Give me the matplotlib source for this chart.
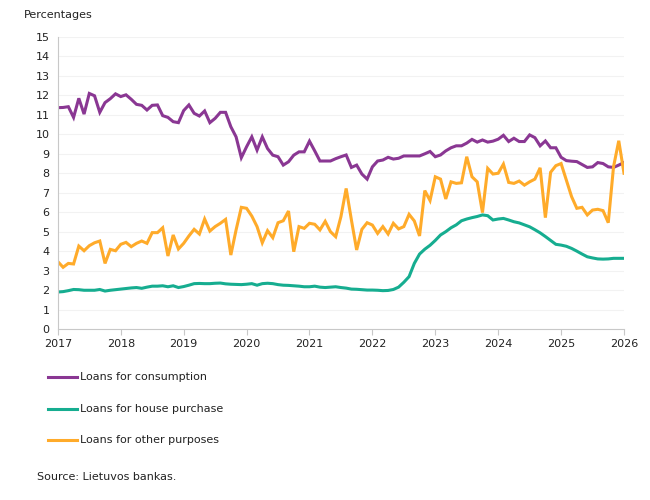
import numpy as np
import matplotlib.pyplot as plt
from matplotlib.lines import Line2D

# monthly observations, Jan 2017 .. Jan 2026
consumption = [
    11.37, 11.38, 11.42, 10.87, 11.85, 11.04, 12.10, 11.98, 11.13, 11.63, 11.83, 12.08,
    11.94, 12.03, 11.80, 11.54, 11.49, 11.25, 11.49, 11.51, 10.96, 10.87, 10.65, 10.60,
    11.22, 11.51, 11.08, 10.94, 11.20, 10.60, 10.82, 11.13, 11.13, 10.39, 9.87, 8.80,
    9.36, 9.87, 9.19, 9.87, 9.27, 8.93, 8.85, 8.42, 8.59, 8.93, 9.10, 9.10,
    9.65, 9.15, 8.63, 8.63, 8.63, 8.75, 8.85, 8.94, 8.30, 8.42, 7.96, 7.70,
    8.33, 8.63, 8.68, 8.82, 8.73, 8.77, 8.89, 8.89, 8.89, 8.89, 9.00, 9.12,
    8.85, 8.94, 9.15, 9.31, 9.41, 9.41, 9.55, 9.74, 9.60, 9.71, 9.60, 9.65,
    9.75, 9.95, 9.63, 9.80, 9.63, 9.63, 9.97, 9.83, 9.41, 9.66, 9.31, 9.31,
    8.82, 8.65, 8.62, 8.60, 8.45, 8.30, 8.33, 8.55, 8.50, 8.33, 8.30, 8.42,
    8.55,
]
house = [
    1.90, 1.92, 1.97, 2.03, 2.02, 1.99, 1.99, 1.99, 2.03, 1.95, 1.99, 2.02,
    2.05, 2.08, 2.11, 2.13, 2.09, 2.15, 2.20, 2.20, 2.22, 2.17, 2.22, 2.13,
    2.18, 2.25, 2.33, 2.34, 2.33, 2.33, 2.35, 2.36, 2.32, 2.30, 2.29, 2.28,
    2.30, 2.33, 2.25, 2.33, 2.35, 2.33, 2.28, 2.25, 2.24, 2.22, 2.20, 2.17,
    2.17, 2.20, 2.15, 2.13, 2.15, 2.17, 2.13, 2.10, 2.05, 2.04, 2.02, 2.00,
    2.00, 1.99, 1.97, 1.98, 2.03, 2.15, 2.40, 2.69, 3.37, 3.85, 4.10, 4.30,
    4.55, 4.83, 5.00, 5.20, 5.35, 5.56, 5.65, 5.72, 5.78, 5.86, 5.82, 5.60,
    5.65, 5.68, 5.60, 5.51, 5.45, 5.35, 5.25, 5.10, 4.94, 4.75, 4.55, 4.35,
    4.31, 4.25, 4.14, 4.00, 3.85, 3.71, 3.65, 3.60, 3.59, 3.60, 3.63, 3.63,
    3.63,
]
other = [
    3.46, 3.17, 3.37, 3.34, 4.26, 4.02, 4.28, 4.43, 4.52, 3.37, 4.09, 4.02,
    4.35, 4.45, 4.23, 4.40, 4.52, 4.40, 4.95, 4.95, 5.20, 3.75, 4.83, 4.11,
    4.40, 4.78, 5.12, 4.88, 5.65, 5.03, 5.26, 5.43, 5.63, 3.80, 5.09, 6.25,
    6.20, 5.80, 5.26, 4.43, 5.05, 4.69, 5.46, 5.56, 6.06, 3.97, 5.26, 5.17,
    5.43, 5.38, 5.09, 5.53, 5.00, 4.74, 5.77, 7.22, 5.60, 4.06, 5.12, 5.46,
    5.34, 4.91, 5.26, 4.88, 5.43, 5.14, 5.26, 5.89, 5.55, 4.78, 7.11, 6.60,
    7.82, 7.70, 6.68, 7.56, 7.48, 7.51, 8.85, 7.82, 7.56, 5.98, 8.25, 7.96,
    8.00, 8.47, 7.53, 7.48, 7.60, 7.39, 7.56, 7.70, 8.28, 5.72, 8.05, 8.39,
    8.50, 7.65, 6.80, 6.20, 6.25, 5.86, 6.11, 6.15, 6.08, 5.46, 8.33, 9.67,
    8.00,
]
labels = ["Loans for consumption", "Loans for house purchase", "Loans for other purposes"]
colors = ["#8a3793", "#16ad90", "#ffab2a"]

years = 2017 + np.arange(len(consumption)) / 12

plt.rcParams['font.family'] = ['DejaVu Sans']
fig = plt.figure(figsize=(6.5, 5), dpi=100)
ax = fig.add_axes([0.089, 0.342, 0.871, 0.584])

for s, c in zip([consumption, house, other], colors):
    ax.plot(years, s, color=c, lw=2.2, solid_joinstyle='miter')

ax.set_xlim(2017, 2026)
ax.set_ylim(0, 15)
ax.set_xticks(range(2017, 2027))
ax.set_yticks(range(0, 16))
ax.tick_params(axis='y', length=0, labelsize=8, pad=6, labelcolor='#222222')
ax.tick_params(axis='x', length=4, color='#c8c8c8', labelsize=8, pad=3, labelcolor='#222222')
ax.grid(axis='y', color='#f2f2f2', lw=0.8)
ax.set_axisbelow(True)
for sp in ['top', 'right']:
    ax.spines[sp].set_visible(False)
ax.spines['left'].set_color('#c8c8c8')
ax.spines['bottom'].set_color('#c8c8c8')

fig.text(0.037, 0.97, "Percentages", fontsize=8, va='center', color='#222222')

# legend drawn below the plot, one row per series
for i, (lab, c) in enumerate(zip(labels, colors)):
    y = 1 - (377 + 31.5 * i) / 500
    fig.add_artist(Line2D([48 / 650, 77 / 650], [y, y], color=c, lw=2.2))
    fig.text(80 / 650, y, lab, fontsize=8, va='center', color='#222222')

fig.text(37 / 650, 1 - 477 / 500, "Source: Lietuvos bankas.", fontsize=8, va='center', color='#222222')

fig.savefig("out.png", dpi=100)
